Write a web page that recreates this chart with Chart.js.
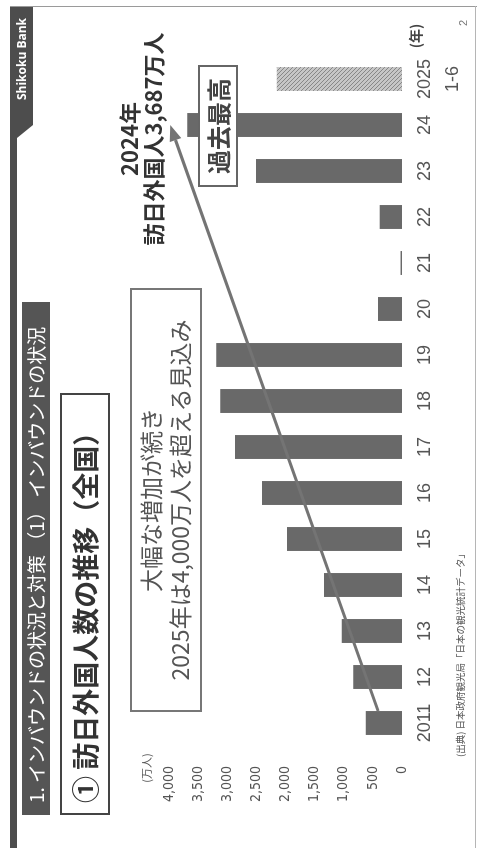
<!DOCTYPE html>
<html lang="ja">
<head>
<meta charset="UTF-8">
<title>訪日外国人数の推移（全国）</title>
<script src="https://cdn.jsdelivr.net/npm/chart.js"></script>
<style>
  html, body { margin: 0; padding: 0; background: #fff; overflow: hidden; }
  /* slide is laid out landscape, then turned to match the scanned page */
  #slide {
    position: absolute; left: 0; top: 0; width: 848px; height: 477px; background: #fff;
    transform-origin: 0 0; transform: translateY(848px) rotate(-90deg);
    font-family: "Noto Sans CJK JP", sans-serif;
  }
  #slide div { position: absolute; white-space: nowrap; box-sizing: border-box; }
  #chart { position: absolute; left: 0; top: 0; }
  .topline { left: 0; top: 10px; width: 841px; height: 7px; background: #4d4d4d; }
  .rightline { left: 841px; top: 10px; width: 1px; height: 467px; background: #9a9a9a; }
  .bottomline { left: 0; top: 475px; width: 842px; height: 1px; background: #b5b5b5; }
  .bank { left: 710px; top: 10px; width: 131px; height: 23px; background: #4d4d4d;
          clip-path: polygon(0 0, 131px 0, 131px 23px, 13px 23px, 0 7px); }
  .bankText { left: 740px; top: 13px; width: 98px; height: 23px; line-height: 23px; text-align: center;
              color: #fff; font: bold 12px "Open Sans", sans-serif; }
  .title { left: 33px; top: 22px; width: 513px; height: 28px; line-height: 28px; padding-left: 12px;
           background: #555; color: #fff; font-size: 19px; }
  .sub { left: 33px; top: 60px; width: 422px; height: 50px; line-height: 46px; padding-left: 10px;
         border: 2px solid #444; color: #333; font-size: 27px; font-weight: bold; }
  .note { left: 136px; top: 130px; width: 424px; height: 72px; padding-top: 4px; line-height: 29px;
          border: 2px solid #777; color: #555; font-size: 23px; text-align: center; }
  .anno { left: 589px; top: 116px; width: 240px; line-height: 24px; text-align: center;
          color: #333; font-size: 22px; font-weight: bold; }
  .record { left: 661px; top: 198px; width: 122px; height: 40px; line-height: 36px; text-align: center;
            background: #fff; border: 2px solid #666; color: #444; font-size: 24px; font-weight: bold; }
  .unitY { left: 60px; top: 139px; width: 40px; line-height: 14px; text-align: center; color: #555; font-size: 11px; }
  .unitX { left: 797px; top: 405px; width: 30px; line-height: 20px; text-align: center; color: #444; font-size: 14px; font-weight: bold; }
  .source { left: 91px; top: 454px; line-height: 12px; color: #555; font-size: 9.5px; }
  .page { left: 822px; top: 457px; line-height: 14px; color: #777; font: 11px "Liberation Sans", sans-serif; }
</style>
</head>
<body>
<div id="slide">
  <canvas id="chart" width="848" height="477"></canvas>
  <div class="topline"></div>
  <div class="rightline"></div>
  <div class="bottomline"></div>
  <div class="bank"></div>
  <div class="bankText">Shikoku Bank</div>
  <div class="title">1. インバウンドの状況と対策 （1） インバウンドの状況</div>
  <div class="sub">① 訪日外国人数の推移（全国）</div>
  <div class="note">大幅な増加が続き<br>2025年は4,000万人を超える見込み</div>
  <div class="anno">2024年<br>訪日外国人3,687万人</div>
  <div class="record">過去最高</div>
  <div class="unitY">(万人)</div>
  <div class="unitX">(年)</div>
  <div class="source">(出典) 日本政府観光局「日本の観光統計データ」</div>
  <div class="page">2</div>
</div>

<script>
// years on the category axis (2025 is Jan-Jun only)
const years = ['2011', '12', '13', '14', '15', '16', '17', '18', '19', '20', '21', '22', '23', '24', ['2025', '1-6']];
// visitors, 10 thousand people
const visitors = [622, 836, 1036, 1341, 1974, 2404, 2869, 3119, 3188, 412, 25, 383, 2507, 3687, 2151];
const valueMin = 0;
const valueMax = 4000;
const valueStep = 500;
// arrow: [category index, value]
const arrowFrom = [0, 410];
const arrowTo = [13, 3980];

const barGray = '#696969';

function hatchPattern() {
    const c = document.createElement('canvas');
    c.width = 4; c.height = 4;
    const g = c.getContext('2d');
    g.fillStyle = '#c6c6c6';
    g.fillRect(0, 0, 4, 4);
    g.fillStyle = '#878787';
    for (let i = 0; i < 4; i++) g.fillRect(i, i, 1, 1);
    return g.createPattern(c, 'repeat');
}

const colors = visitors.map((v, i) => i === visitors.length - 1 ? hatchPattern() : barGray);

const arrowPlugin = {
    id: 'arrow',
    afterDatasetsDraw(chart) {
        const { ctx, scales: { x, y } } = chart;
        const bar = chart.getDatasetMeta(0).data[arrowFrom[0]];
        const x0 = bar.x + bar.width / 2;
        const y0 = y.getPixelForValue(arrowFrom[1]);
        const x1 = x.getPixelForValue(arrowTo[0]);
        const y1 = y.getPixelForValue(arrowTo[1]);
        const a = Math.atan2(y1 - y0, x1 - x0);
        const head = 16, half = 6;
        const bx = x1 - head * Math.cos(a), by = y1 - head * Math.sin(a);
        ctx.save();
        ctx.strokeStyle = '#747474';
        ctx.fillStyle = '#747474';
        ctx.lineWidth = 3;
        ctx.beginPath();
        ctx.moveTo(x0, y0);
        ctx.lineTo(bx, by);
        ctx.stroke();
        ctx.beginPath();
        ctx.moveTo(x1, y1);
        ctx.lineTo(bx + half * Math.sin(a), by - half * Math.cos(a));
        ctx.lineTo(bx - half * Math.sin(a), by + half * Math.cos(a));
        ctx.closePath();
        ctx.fill();
        ctx.restore();
    }
};

new Chart(document.getElementById('chart').getContext('2d'), {
    type: 'bar',
    data: {
        labels: years,
        datasets: [{
            data: visitors,
            backgroundColor: colors,
            borderWidth: 0,
            categoryPercentage: 1,
            barPercentage: 0.52
        }]
    },
    options: {
        responsive: false,
        animation: false,
        events: [],
        layout: { padding: { left: 0, right: 56, top: 169, bottom: 0 } },
        plugins: { legend: { display: false }, tooltip: { enabled: false } },
        scales: {
            x: {
                grid: { display: false, drawTicks: false },
                border: { display: false },
                ticks: {
                    color: '#555',
                    font: { family: '"Liberation Sans", sans-serif', size: 18, lineHeight: 1.55 },
                    padding: 9,
                    maxRotation: 0,
                    autoSkip: false
                },
                afterFit: s => { s.height = 75; }
            },
            y: {
                min: valueMin,
                max: valueMax,
                grid: { display: false, drawTicks: false },
                border: { display: false },
                ticks: {
                    stepSize: valueStep,
                    padding: 20,
                    color: '#555',
                    font: { family: '"Liberation Sans Narrow", "DejaVu Sans Condensed", sans-serif', size: 14 },
                    callback: v => v.toLocaleString('en-US')
                },
                afterFit: s => { s.width = 102; }
            }
        }
    },
    plugins: [arrowPlugin]
});
</script>
</body>
</html>
